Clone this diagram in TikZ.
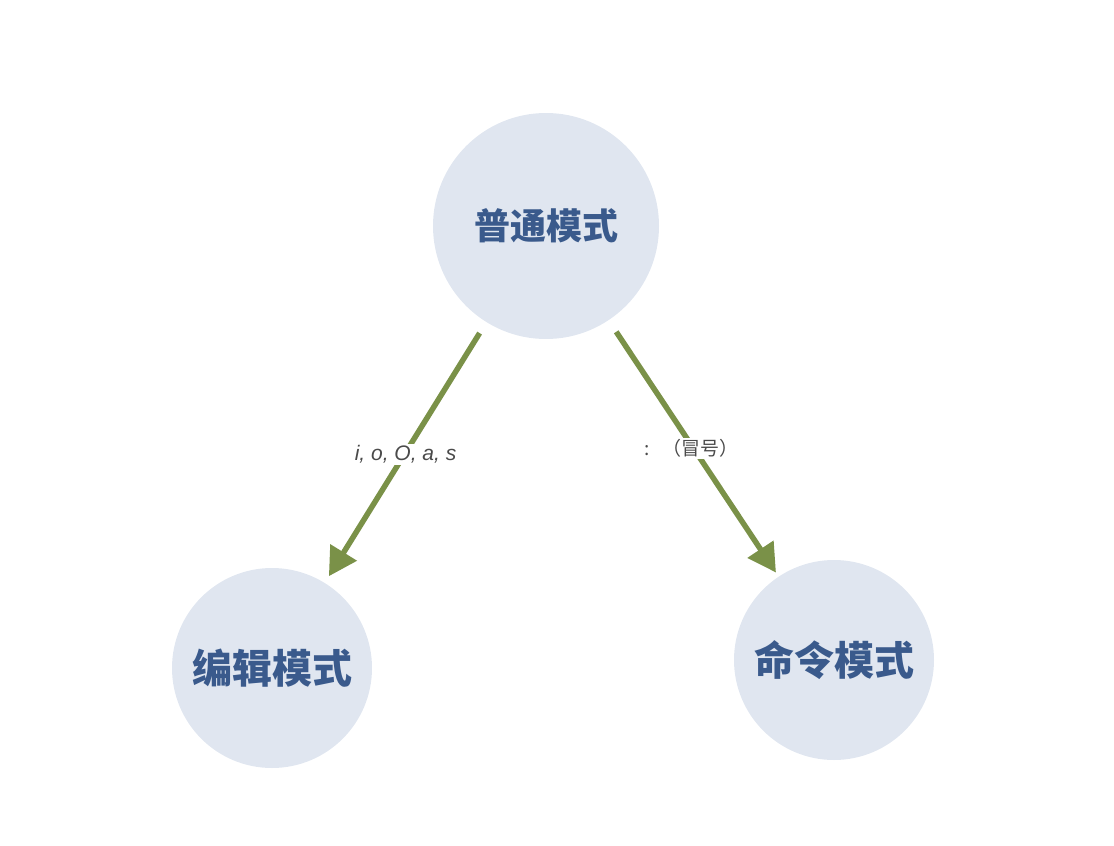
\documentclass[tikz,border=0pt]{standalone}
\usepackage{fontspec}
\setmainfont{Liberation Sans}
\newfontfamily\cjk{Noto Sans CJK SC}
\usetikzlibrary{arrows.meta}
\definecolor{nenvong}{HTML}{E0E6F0}
\definecolor{chumode}{HTML}{3A5A8C}
\definecolor{muiten}{HTML}{7A9148}
\definecolor{chunhan}{HTML}{4A4A4A}

\begin{document}
\begin{tikzpicture}[x=1pt,y=-1pt, line join=round,
	mode/.style={circle, fill=nenvong, inner sep=0pt, outer sep=0pt, text=chumode, font=\cjk\bfseries},
	chuyen/.style={draw=muiten, line width=5.5pt, -{Triangle[length=28pt,width=30pt]}},
	nhan/.style={fill=white, inner sep=1.5pt, text=chunhan}]
	\useasboundingbox (0,0) rectangle (1114,846);
	% Các trạng thái
	\node[mode, minimum size=226pt, font=\cjk\bfseries\fontsize{36}{36}\selectfont] (normal) at (546,226) {普通模式};
	\node[mode, minimum size=200pt, font=\cjk\bfseries\fontsize{40}{40}\selectfont] (insert) at (272,668) {编辑模式};
	\node[mode, minimum size=200pt, font=\cjk\bfseries\fontsize{40}{40}\selectfont] (command) at (834,660) {命令模式};
	% Chuyển trạng thái
	\draw[chuyen, shorten <=13pt, shorten >=8pt] (normal) -- (insert)
		node[nhan, midway, yshift=-2pt, font=\itshape\fontsize{21}{21}\selectfont] {i, o, O, a, s};
	\draw[chuyen, shorten <=14pt, shorten >=5pt] (normal) -- (command)
		node[nhan, midway, xshift=-2pt, yshift=0pt, font=\cjk\fontsize{19}{19}\selectfont] {:\hspace{12pt}（冒号）};
\end{tikzpicture}
\end{document}
